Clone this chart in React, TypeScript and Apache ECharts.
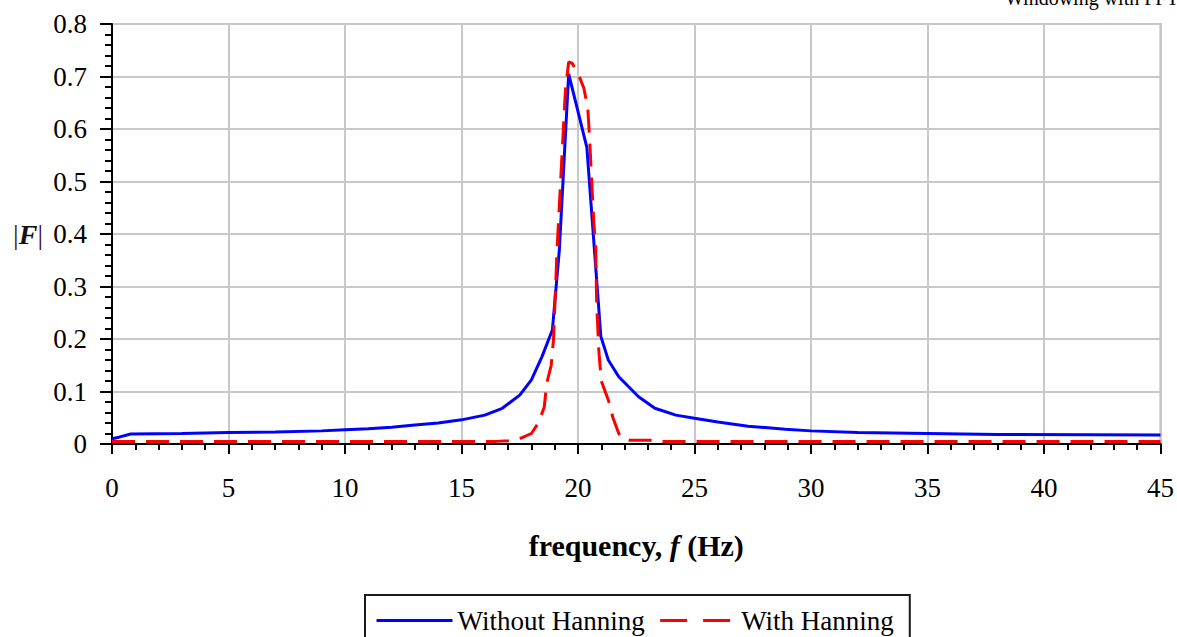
import React, { useEffect, useRef } from "react";
import * as echarts from "echarts";

// Spectrum without Hanning window (frequency in Hz, |F|)
const blueFreq = [0, 0.3, 0.8, 3, 5, 7, 9, 10, 11, 12, 13, 14, 15, 16, 16.75, 17.5, 18.0, 18.45, 18.9, 19.2, 19.6, 20.38, 20.98, 21.3, 21.75, 22.6, 23.3, 24.2, 25, 26, 27.3, 28.9, 30, 32, 35, 38, 42, 45];
const blueMag = [0.010, 0.013, 0.019, 0.020, 0.022, 0.023, 0.025, 0.027, 0.029, 0.032, 0.036, 0.040, 0.046, 0.055, 0.068, 0.093, 0.122, 0.166, 0.217, 0.37, 0.705, 0.565, 0.205, 0.160, 0.128, 0.090, 0.068, 0.055, 0.049, 0.042, 0.034, 0.028, 0.025, 0.022, 0.020, 0.018, 0.0175, 0.017];

// Spectrum with Hanning window
const redFreq = [0, 10, 16.5, 17.0, 17.5, 18.0, 18.3, 18.55, 18.66, 18.85, 18.95, 19.1, 19.3, 19.46, 19.6, 19.75, 20.0, 20.25, 20.42, 20.5, 20.6, 20.68, 20.76, 20.8, 20.89, 21.0, 21.3, 21.5, 21.75, 21.9, 22.2, 23.3, 23.6, 30, 45];
const redMag = [0.005, 0.005, 0.005, 0.006, 0.010, 0.020, 0.040, 0.070, 0.116, 0.150, 0.200, 0.370, 0.540, 0.674, 0.728, 0.725, 0.706, 0.678, 0.640, 0.580, 0.490, 0.420, 0.375, 0.270, 0.180, 0.120, 0.084, 0.050, 0.020, 0.010, 0.007, 0.007, 0.005, 0.005, 0.005];

const seriesNames = ["Without Hanning", "With Hanning"];
const xRange = [0, 45];
const xStep = 5;
const yRange = [0, 0.8];
const yStep = 0.1;
const titleText = "Windowing with FFT";

const FONT = '"Liberation Serif", "Times New Roman", serif';

export default function App() {
  const ref = useRef<HTMLDivElement>(null);
  useEffect(() => {
    if (!ref.current) return;
    const chart = echarts.init(ref.current, undefined, { renderer: "svg" });
    const blueData = blueFreq.map((f, i) => [f, blueMag[i]]);
    const redData = redFreq.map((f, i) => [f, redMag[i]]);
    chart.setOption({
      animation: false,
      backgroundColor: "#ffffff",
      textStyle: { fontFamily: FONT },
      grid: {
        left: 112,
        right: 14,
        top: 24,
        bottom: 193,
        show: true,
        borderColor: "#b4b4b4",
        borderWidth: 2,
        backgroundColor: "transparent",
      },
      graphic: [
        {
          type: "text",
          x: 1005,
          y: 8,
          style: {
            text: titleText,
            fontSize: 20,
            fontFamily: FONT,
            fill: "#000",
            verticalAlign: "bottom",
          },
        },
      ],
      legend: {
        show: true,
        left: 365,
        top: 595,
        orient: "horizontal",
        padding: [12, 16, 12, 10],
        itemGap: 14,
        itemWidth: 76,
        itemHeight: 2,
        borderColor: "#1a1a1a",
        borderWidth: 2,
        textStyle: { fontFamily: FONT, fontSize: 27, color: "#000" },
        data: [
          {
            name: seriesNames[0],
            itemStyle: { color: "transparent", borderWidth: 0 },
            lineStyle: { color: "#0000ff", width: 3, type: "solid" },
          },
          {
            name: seriesNames[1],
            itemStyle: { color: "transparent", borderWidth: 0 },
            lineStyle: { color: "#ff0000", width: 3, type: [27, 16] },
          },
        ],
      },
      xAxis: {
        type: "value",
        min: xRange[0],
        max: xRange[1],
        interval: xStep,
        name: "frequency, {i|f} (Hz)",
        nameLocation: "middle",
        nameGap: 86,
        nameTextStyle: {
          fontFamily: FONT,
          fontSize: 30,
          fontWeight: "bold",
          color: "#000",
          rich: {
            i: { fontFamily: FONT, fontSize: 30, fontWeight: "bold", fontStyle: "italic", color: "#000" },
          },
        },
        axisLine: { show: true, onZero: false, lineStyle: { color: "#000", width: 2 } },
        axisTick: { show: true, length: 10, lineStyle: { color: "#000", width: 2 } },
        minorTick: { show: true, splitNumber: 5, length: 6, lineStyle: { color: "#000", width: 2 } },
        axisLabel: { margin: 30, fontFamily: FONT, fontSize: 27, color: "#000" },
        splitLine: { show: true, lineStyle: { color: "#c8c8c8", width: 2 } },
      },
      yAxis: {
        type: "value",
        min: yRange[0],
        max: yRange[1],
        interval: yStep,
        name: "|{f|F}|",
        nameLocation: "middle",
        nameRotate: 0,
        nameGap: 69,
        nameTextStyle: {
          fontFamily: FONT,
          fontSize: 28,
          color: "#3a0c3a",
          rich: {
            f: { fontFamily: FONT, fontSize: 28, fontWeight: "bold", fontStyle: "italic", color: "#111" },
          },
        },
        axisLine: { show: true, onZero: false, lineStyle: { color: "#000", width: 2 } },
        axisTick: { show: true, length: 12, lineStyle: { color: "#000", width: 2 } },
        minorTick: { show: true, splitNumber: 5, length: 7, lineStyle: { color: "#000", width: 2 } },
        axisLabel: { margin: 25, fontFamily: FONT, fontSize: 27, color: "#000" },
        splitLine: { show: true, lineStyle: { color: "#c8c8c8", width: 2 } },
      },
      series: [
        {
          name: seriesNames[0],
          type: "line",
          data: blueData,
          symbol: "none",
          showSymbol: false,
          color: "#0000ff",
          lineStyle: { color: "#0000ff", width: 3 },
          z: 3,
        },
        {
          name: seriesNames[1],
          type: "line",
          data: redData,
          symbol: "none",
          showSymbol: false,
          color: "#ff0000",
          lineStyle: { color: "#ff0000", width: 3, type: [23, 11] },
          z: 4,
        },
      ],
    });
    return () => chart.dispose();
  }, []);
  return (
    <div
      ref={ref}
      style={{ position: "fixed", left: 0, top: 0, width: 1177, height: 637, background: "#fff" }}
    />
  );
}
